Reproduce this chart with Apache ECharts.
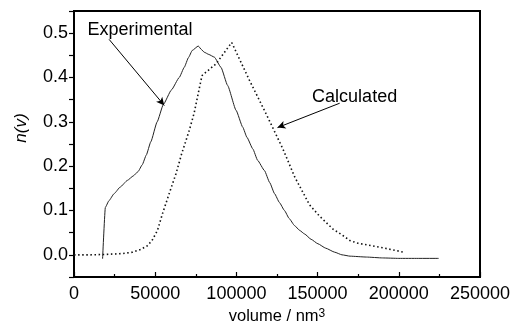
<!DOCTYPE html>
<html>
<head>
<meta charset="utf-8">
<script src="https://cdn.jsdelivr.net/npm/echarts@6/dist/echarts.min.js"></script>
<style>
  html, body { margin: 0; padding: 0; background: #fff; }
  #chart { width: 513px; height: 326px; }
</style>
</head>
<body>
<div id="chart"></div>
<script>
// Size distribution n(v) against particle volume (nm^3)
const experimental = [
  [17600, -0.009], [19300, 0.107], [21500, 0.122], [24700, 0.138], [28500, 0.153],
  [32900, 0.168], [36500, 0.178], [39500, 0.188], [42000, 0.203], [44500, 0.225],
  [47300, 0.255], [51200, 0.30], [55000, 0.339], [60000, 0.372], [64800, 0.40],
  [67900, 0.423], [70500, 0.445], [72800, 0.461], [76500, 0.471], [78500, 0.463],
  [80200, 0.457], [83000, 0.452], [86400, 0.446], [90500, 0.423], [94600, 0.382],
  [99800, 0.326], [103900, 0.288], [106500, 0.265], [110100, 0.239], [113100, 0.213],
  [117300, 0.19], [120500, 0.163], [123500, 0.138], [126500, 0.118], [129600, 0.10],
  [132500, 0.082], [135800, 0.066], [139000, 0.055], [142000, 0.047], [146000, 0.035],
  [150200, 0.025], [155000, 0.015], [160500, 0.006], [165000, 0.0], [170000, -0.003],
  [180000, -0.005], [190000, -0.007], [200000, -0.008], [212000, -0.008], [224500, -0.008]
];

const calculated = [
  [0, 0.0], [10000, 0.0], [20000, 0.001], [30000, 0.003], [36000, 0.006],
  [41000, 0.012], [45000, 0.02], [48000, 0.032], [51400, 0.055], [54500, 0.093],
  [58600, 0.138], [62800, 0.183], [66300, 0.228], [71000, 0.281], [74000, 0.32],
  [78200, 0.394], [79000, 0.405], [87500, 0.431], [97100, 0.479], [108000, 0.394],
  [118300, 0.318], [128600, 0.239], [136000, 0.175], [145000, 0.113], [151000, 0.088],
  [159500, 0.058], [165000, 0.045], [170000, 0.032], [175000, 0.026], [190000, 0.016],
  [203000, 0.006]
];

const xTicks = { min: 0, max: 250000, step: 50000 };
const yTicks = { min: -0.05, max: 0.55, step: 0.05 };

// Annotation labels and their pointer arrows (data coordinates)
const notes = [
  { text: 'Experimental', at: [40700, 0.506], from: [21600, 0.486], to: [55600, 0.337] },
  { text: 'Calculated', at: [172800, 0.357], from: [163600, 0.342], to: [125300, 0.287] }
];

const ink = '#000000';
const font = '"Liberation Sans", Arial, Helvetica, sans-serif';
const gridBox = { left: 74, right: 33, top: 11, bottom: 49 };
const W = 513, H = 326;
const boxR = W - gridBox.right, boxB = H - gridBox.bottom;

const chart = echarts.init(document.getElementById('chart'), null, { renderer: 'canvas' });

chart.setOption({
  animation: false,
  backgroundColor: '#fff',
  grid: Object.assign({
    show: true, borderColor: ink, borderWidth: 2,
    containLabel: false,
    outerBoundsMode: 'none',
    outerBounds: { left: -100, right: -100, top: -100, bottom: -100 }
  }, gridBox),
  // top and right edges of the plot box, on their own layer
  graphic: {
    elements: [
      {
        type: 'line', zlevel: 1, z: 100,
        shape: { x1: gridBox.left, y1: gridBox.top, x2: boxR, y2: gridBox.top },
        style: { stroke: ink, lineWidth: 1.5 }
      },
      {
        type: 'line', zlevel: 1, z: 100,
        shape: { x1: boxR, y1: gridBox.top, x2: boxR, y2: boxB },
        style: { stroke: ink, lineWidth: 1.5 }
      }
    ]
  },
  xAxis: {
    type: 'value',
    min: xTicks.min, max: xTicks.max, interval: xTicks.step,
    name: '{a|volume / nm}{s|3}',
    nameLocation: 'middle',
    nameGap: 30,
    nameTextStyle: {
      fontFamily: font, color: ink,
      rich: {
        a: { fontFamily: font, fontSize: 16.5, color: ink },
        s: { fontFamily: font, fontSize: 12, color: ink, verticalAlign: 'top' }
      }
    },
    axisLine: { show: true, onZero: false, lineStyle: { color: ink, width: 1.5 } },
    axisTick: { show: true, inside: true, length: 5, lineStyle: { color: ink, width: 1.2 } },
    minorTick: { show: true, splitNumber: 2, length: 3, lineStyle: { color: ink, width: 1.2 } },
    splitLine: { show: false },
    axisLabel: {
      fontFamily: font, fontSize: 18, color: ink, margin: 8,
      showMinLabel: true, showMaxLabel: true,
      formatter: v => String(Math.round(v))
    }
  },
  yAxis: {
    type: 'value',
    min: yTicks.min, max: yTicks.max, interval: yTicks.step,
    name: 'n(v)',
    nameLocation: 'middle',
    nameGap: 44,
    nameTextStyle: {
      fontFamily: font, fontSize: 17, color: ink, fontStyle: 'italic',
      padding: [0, 0, 0, 32]
    },
    axisLine: { show: true, onZero: false, lineStyle: { color: ink, width: 1.5 } },
    axisTick: { show: true, inside: false, length: 5, lineStyle: { color: ink, width: 1.2 } },
    splitLine: { show: false },
    axisLabel: {
      fontFamily: font, fontSize: 18, color: ink, margin: 6,
      formatter: function (v) {
        const t = Math.round(v * 100);
        if (t % 10 !== 0 || t < 0 || t > 50) return '';
        return (t / 100).toFixed(1);
      }
    }
  },
  series: [
    {
      name: 'Experimental',
      type: 'line',
      data: experimental,
      showSymbol: false,
      smooth: 0.15,
      smoothMonotone: 'x',
      lineStyle: { color: '#222', width: 1, type: 'solid' },
      z: 3
    },
    {
      name: 'Calculated',
      type: 'line',
      data: calculated,
      showSymbol: false,
      lineStyle: { color: '#111', width: 1.6, type: [1.5, 2.6] },
      z: 3,
      markLine: {
        silent: true,
        symbol: ['none', 'arrow'],
        symbolSize: [6, 8],
        label: { show: false },
        lineStyle: { color: ink, width: 1, type: 'solid' },
        data: notes.map(n => [{ coord: n.from }, { coord: n.to }])
      }
    },
    {
      // curve captions
      name: 'captions',
      type: 'scatter',
      silent: true,
      symbolSize: 1,
      itemStyle: { color: 'rgba(0,0,0,0)' },
      z: 5,
      label: {
        show: true, position: 'inside', formatter: '{b}',
        fontFamily: font, fontSize: 18, color: '#000', opacity: 1
      },
      emphasis: { disabled: true },
      data: notes.map(n => ({ name: n.text, value: n.at }))
    }
  ]
});
</script>
</body>
</html>
